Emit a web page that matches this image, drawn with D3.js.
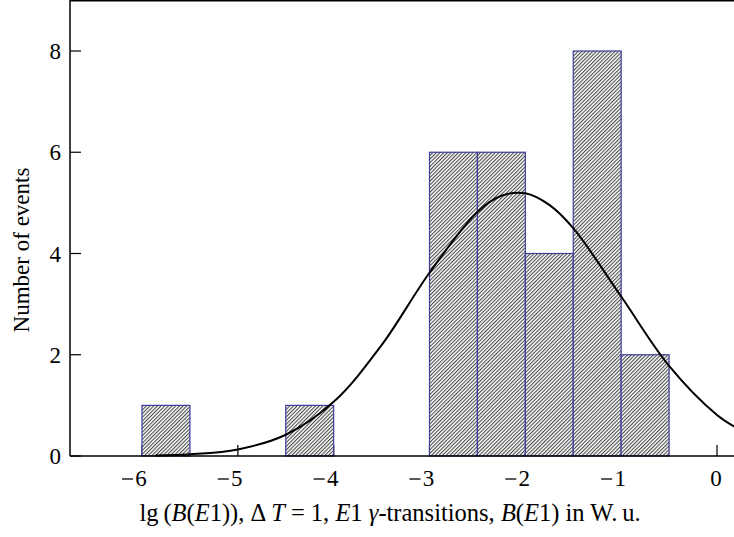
<!DOCTYPE html>
<html>
<head>
<meta charset="utf-8">
<script src="https://cdn.jsdelivr.net/npm/d3@7"></script>
<style>
  body { margin: 0; background: #fff; }
  svg { display: block; }
  text { font-family: "Liberation Serif", "DejaVu Serif", serif; fill: #000; }
</style>
</head>
<body>
<svg width="734" height="537"></svg>
<script>
// histogram bins (lower edge, upper edge) and counts
const binStart = [-6, -4.5, -3, -2.5, -2, -1.5, -1]
const binEnd   = [-5.5, -4, -2.5, -2, -1.5, -1, -0.5]
const counts   = [1, 1, 6, 6, 4, 8, 2]

// fitted curve
const fitX = [-5.86, -5.5, -5, -4.5, -4, -3.5, -3, -2.5, -2.25, -2, -1.75, -1.5, -1, -0.5, 0, 0.2]
const fitY = [0.01, 0.035, 0.13, 0.42, 1.07, 2.19, 3.62, 4.82, 5.14, 5.19, 4.96, 4.5, 3.15, 1.78, 0.81, 0.56]

const xTicks = [-6, -5, -4, -3, -2, -1, 0]
const yTicks = [0, 2, 4, 6, 8]

const svg = d3.select('svg')

const x = d3.scaleLinear().domain([-6, 0]).range([142, 717])
const y = d3.scaleLinear().domain([0, 8]).range([456, 51])

const frameL = 70, frameR = 734, frameB = 456, frameT = 0

// hatch pattern
const defs = svg.append('defs')
defs.append('pattern')
  .attr('id', 'hatch')
  .attr('patternUnits', 'userSpaceOnUse')
  .attr('width', 2.6)
  .attr('height', 2.6)
  .attr('patternTransform', 'rotate(45)')
  .append('line')
  .attr('x1', 0.6).attr('y1', 0)
  .attr('x2', 0.6).attr('y2', 2.6)
  .attr('stroke', '#222')
  .attr('stroke-width', 0.9)

// x ticks (drawn under bars)
svg.append('g')
  .selectAll('line')
  .data(xTicks)
  .enter()
  .append('line')
  .attr('x1', d => x(d)).attr('x2', d => x(d))
  .attr('y1', frameB).attr('y2', frameB - 11)
  .attr('stroke', '#000')
  .attr('stroke-width', 1.2)

// bars
const bars = svg.append('g')
  .selectAll('g')
  .data(counts)
  .enter()
  .append('g')

bars.append('rect')
  .attr('x', (d, i) => x(binStart[i]))
  .attr('y', d => y(d))
  .attr('width', (d, i) => x(binEnd[i]) - x(binStart[i]))
  .attr('height', d => y(0) - y(d))
  .attr('fill', '#fff')

bars.append('rect')
  .attr('x', (d, i) => x(binStart[i]))
  .attr('y', d => y(d))
  .attr('width', (d, i) => x(binEnd[i]) - x(binStart[i]))
  .attr('height', d => y(0) - y(d))
  .attr('fill', 'url(#hatch)')
  .attr('stroke', '#3c3c9c')
  .attr('stroke-width', 1.2)

// fitted curve
const fitPts = fitX.map((v, i) => [v, fitY[i]])
svg.append('path')
  .datum(fitPts)
  .attr('fill', 'none')
  .attr('stroke', '#000')
  .attr('stroke-width', 2)
  .attr('d', d3.line()
    .x(d => x(d[0]))
    .y(d => y(d[1]))
    .curve(d3.curveCatmullRom))

// frame lines
svg.append('line')
  .attr('x1', frameL).attr('x2', frameR)
  .attr('y1', frameB).attr('y2', frameB)
  .attr('stroke', '#000').attr('stroke-width', 1.5)
svg.append('line')
  .attr('x1', frameL).attr('x2', frameL)
  .attr('y1', frameT).attr('y2', frameB)
  .attr('stroke', '#000').attr('stroke-width', 1.5)
svg.append('line')
  .attr('x1', frameL).attr('x2', frameR)
  .attr('y1', frameT + 0.75).attr('y2', frameT + 0.75)
  .attr('stroke', '#000').attr('stroke-width', 1.5)

// y ticks
svg.append('g')
  .selectAll('line')
  .data(yTicks)
  .enter()
  .append('line')
  .attr('x1', frameL).attr('x2', frameL + 11)
  .attr('y1', d => y(d)).attr('y2', d => y(d))
  .attr('stroke', '#000')
  .attr('stroke-width', 1.2)

svg.append('g')
  .selectAll('text')
  .data(yTicks)
  .enter()
  .append('text')
  .attr('x', 61)
  .attr('y', d => y(d) + 8)
  .attr('text-anchor', 'end')
  .style('font-size', '23px')
  .text(d => d)

// x tick labels: digit centred on the tick, minus sign hanging left
const xLab = svg.append('g')
  .selectAll('g')
  .data(xTicks)
  .enter()
  .append('g')
  .attr('transform', d => `translate(${x(d)},486)`)

xLab.append('text')
  .attr('x', -1)
  .attr('text-anchor', 'middle')
  .style('font-size', '23px')
  .text(d => Math.abs(d))

xLab.filter(d => d < 0)
  .append('line')
  .attr('x1', -20).attr('x2', -9)
  .attr('y1', -7).attr('y2', -7)
  .attr('stroke', '#000')
  .attr('stroke-width', 1.3)

// axis titles
svg.append('text')
  .attr('transform', 'translate(29,250) rotate(-90)')
  .attr('text-anchor', 'middle')
  .style('font-size', '23px')
  .text('Number of events')

const xt = svg.append('text')
  .attr('x', 390)
  .attr('y', 521)
  .attr('text-anchor', 'middle')
  .style('font-size', '24.5px')

const parts = [
  ['lg\u2009(', false], ['B', true], ['(', false], ['E', true], ['1)), \u0394\u2009', false],
  ['T', true], [' = 1, ', false], ['E', true], ['1 ', false], ['\u03B3', true],
  ['-transitions, ', false], ['B', true], ['(', false], ['E', true], ['1) in W.\u2009u.', false]
]
xt.selectAll('tspan')
  .data(parts)
  .enter()
  .append('tspan')
  .style('font-style', d => d[1] ? 'italic' : 'normal')
  .text(d => d[0])
</script>
</body>
</html>
